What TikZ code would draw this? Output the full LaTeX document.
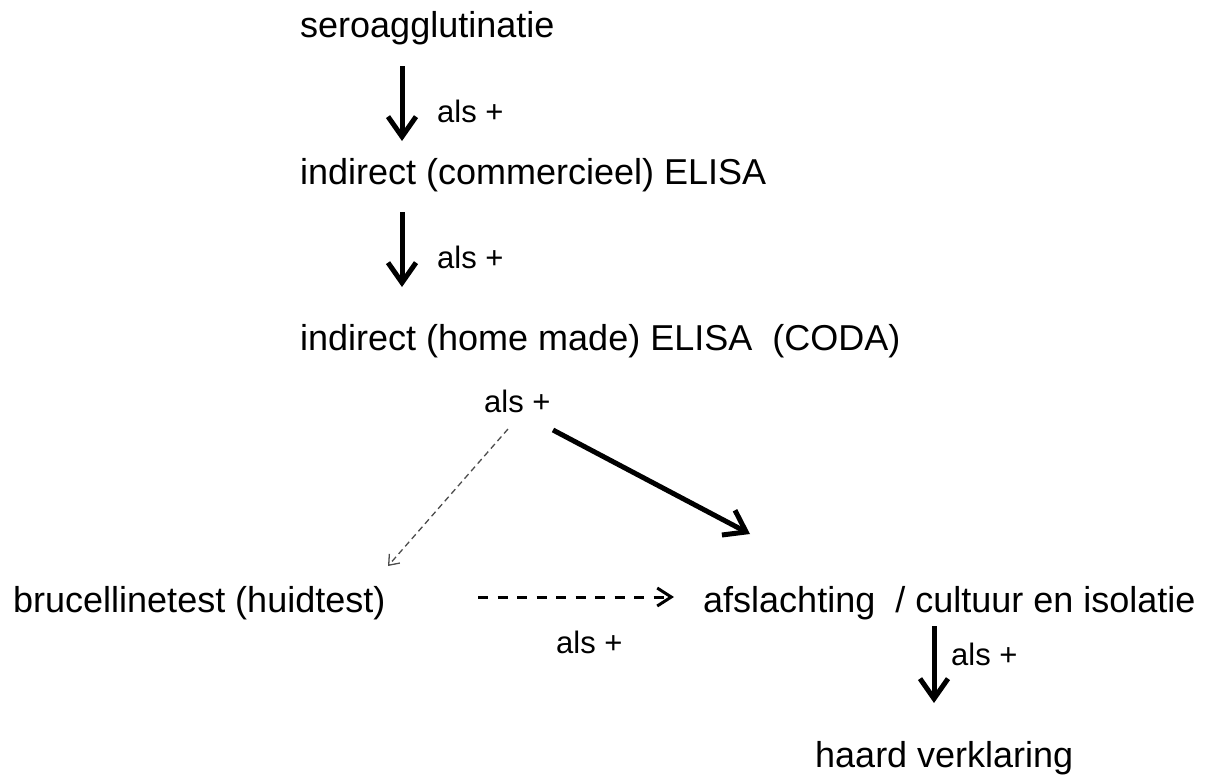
\documentclass[tikz,border=0pt]{standalone}
\usepackage{fontspec}
\setmainfont{Liberation Sans}
\usetikzlibrary{arrows.meta}
\begin{document}
\begin{tikzpicture}[x=1pt,y=-1pt,
  lbl/.style={anchor=base west,inner sep=0pt,font=\fontsize{36}{40}\selectfont},
  small/.style={anchor=base west,inner sep=0pt,font=\fontsize{31}{35}\selectfont},
  thickarrow/.style={line width=5pt,-{Straight Barb[length=20pt,width=28pt,line width=5pt]}},
  thindash/.style={line width=1.3pt,draw=black!70,dash pattern=on 6pt off 4pt,-{Straight Barb[length=9pt,width=14pt,line width=1.3pt]}},
  bigdash/.style={line width=3pt,dash pattern=on 10pt off 9.5pt,-{Straight Barb[length=14pt,width=18pt,line width=3pt]}}]
\useasboundingbox (0,0) rectangle (1229,780);
\node[lbl] (sero) at (300,37) {seroagglutinatie};
\node[lbl] (comm) at (300,184) {indirect (commercieel) ELISA};
\node[lbl] (home) at (300,350) {indirect (home made) ELISA\ \ (CODA)};
\node[lbl] (bruc) at (13,612) {brucellinetest (huidtest)};
\node[lbl] (afsl) at (703,612) {afslachting\ \ / cultuur en isolatie};
\node[lbl] (haard) at (815,767) {haard verklaring};
\node[small] (a1) at (437,122) {als +};
\node[small] (a2) at (437,268) {als +};
\node[small] (a3) at (484,412) {als +};
\node[small] (a4) at (556,653) {als +};
\node[small] (a5) at (951,665) {als +};
\coordinate (s1) at (402,66); \coordinate (e1) at (402,141);
\coordinate (s2) at (402,212); \coordinate (e2) at (402,287);
\coordinate (s3) at (508,429); \coordinate (e3) at (388,566);
\coordinate (s4) at (553,430); \coordinate (e4) at (750,534);
\coordinate (s5) at (478,597); \coordinate (e5) at (674,597);
\coordinate (s6) at (934,626); \coordinate (e6) at (934,703);
\draw[thickarrow] (s1) -- (e1);
\draw[thickarrow] (s2) -- (e2);
\draw[thindash] (s3) -- (e3);
\draw[thickarrow] (s4) -- (e4);
\draw[bigdash] (s5) -- (e5);
\draw[thickarrow] (s6) -- (e6);
\end{tikzpicture}
\end{document}
